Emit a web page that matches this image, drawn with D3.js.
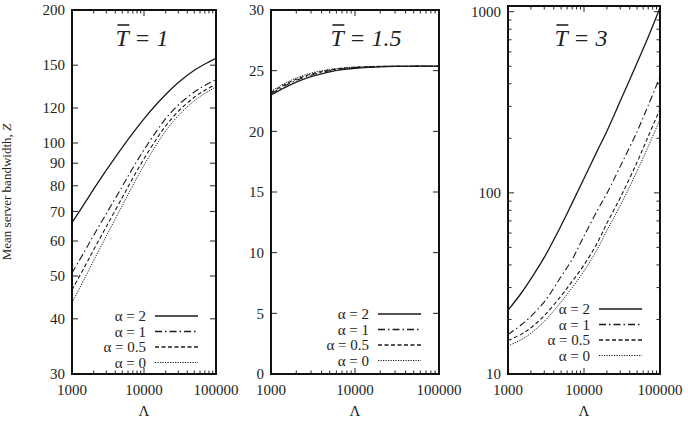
<!DOCTYPE html>
<html>
<head>
<meta charset="utf-8">
<script src="https://cdn.jsdelivr.net/npm/d3@7"></script>
<style>
  html, body { margin: 0; padding: 0; background: #fff; }
  svg { display: block; }
</style>
</head>
<body>
<svg id="chart" width="688" height="423"></svg>
<script>
// ---------------- data ----------------
const lambdaGrid = [1000, 1500, 2000, 3000, 5000, 7000, 10000, 15000, 20000, 30000, 50000, 70000, 100000];
const xTickValues = [1000, 10000, 100000];
const alphaLabels = ["α = 2", "α = 1", "α = 0.5", "α = 0"];

// Panel 1: T = 1
const t1_alpha2  = [66, 73.1, 78.6, 86.8, 97.8, 105.3, 113.4, 122.5, 128.8, 137.1, 146.1, 150.9, 155.5];
const t1_alpha1  = [50.8, 56.9, 61.8, 69.2, 79.8, 87.8, 96.5, 106.5, 113.5, 121.9, 130.4, 135, 139.2];
const t1_alpha05 = [46.5, 52.5, 57.3, 64.7, 75.3, 83.3, 92.1, 102.2, 109.3, 118, 126.9, 131.6, 135.9];
const t1_alpha0  = [43.5, 49.4, 54.2, 61.6, 72.2, 80.2, 89.1, 99.3, 106.5, 115.4, 124.6, 129.5, 133.9];
const t1_yTicks  = [30, 40, 50, 60, 70, 80, 90, 100, 120, 150, 200];

// Panel 2: T = 1.5
const t15_alpha2  = [23.0, 23.65, 24.05, 24.5, 24.9, 25.08, 25.2, 25.28, 25.32, 25.35, 25.37, 25.37, 25.37];
const t15_alpha1  = [23.1, 23.8, 24.2, 24.63, 25.0, 25.15, 25.25, 25.31, 25.34, 25.36, 25.37, 25.37, 25.37];
const t15_alpha05 = [23.2, 23.9, 24.3, 24.72, 25.06, 25.19, 25.28, 25.33, 25.35, 25.36, 25.37, 25.37, 25.37];
const t15_alpha0  = [23.3, 24.0, 24.4, 24.8, 25.1, 25.22, 25.3, 25.34, 25.36, 25.37, 25.37, 25.37, 25.37];
const t15_yTicks  = [0, 5, 10, 15, 20, 25, 30];

// Panel 3: T = 3
const t3_alpha2  = [22.5, 28, 33.5, 44, 66, 88, 120, 171, 219, 321, 522, 724, 1050];
const t3_alpha1  = [16.5, 18.7, 20.8, 25, 34.5, 43, 57.7, 80, 99.3, 140, 218, 304, 437];
const t3_alpha05 = [15.3, 16.6, 18, 21, 27, 32.5, 40, 53, 68, 94, 148, 205, 290];
const t3_alpha0  = [14.3, 15.5, 16.8, 19.5, 25, 30, 37, 49, 62, 85, 132, 180, 255];
const t3_yMajor  = [10, 100, 1000];
const t3_yMinor  = [20, 30, 40, 50, 60, 70, 80, 90, 200, 300, 400, 500, 600, 700, 800, 900];

// ---------------- styling ----------------
const FONT = "Liberation Serif";
const INK = "#222";
const dashStyles = [null, "7,3,1.5,3", "4,2.5", "1.2,1.3"];
const lineWidths = [1.3, 1.1, 1.1, 1.0];

const svg = d3.select("#chart");

const panels = [
  { title: "1", x0: 72, x1: 216, yTop: 10, yBot: 374, type: "log", domain: [30, 200],
    series: [t1_alpha2, t1_alpha1, t1_alpha05, t1_alpha0], yMajor: t1_yTicks, yMinor: [],
    legendY: 316, titleX: 142 },
  { title: "1.5", x0: 271, x1: 439, yTop: 10, yBot: 374, type: "linear", domain: [0, 30],
    series: [t15_alpha2, t15_alpha1, t15_alpha05, t15_alpha0], yMajor: t15_yTicks, yMinor: [],
    legendY: 314, titleX: 366 },
  { title: "3", x0: 508, x1: 660, yTop: 6, yBot: 374, type: "log", domain: [10, 1075],
    series: [t3_alpha2, t3_alpha1, t3_alpha05, t3_alpha0], yMajor: t3_yMajor, yMinor: t3_yMinor,
    legendY: 309, titleX: 581 }
];

const xMinor = [];
[1000, 10000].forEach(d => { for (let k = 2; k <= 9; k++) xMinor.push(d * k); });

function txt(g) {
  return g.append("text").attr("font-family", FONT).attr("fill", INK);
}

panels.forEach(p => {
  const x = d3.scaleLog().domain([1000, 100000]).range([p.x0, p.x1]);
  const y = (p.type === "log" ? d3.scaleLog() : d3.scaleLinear()).domain(p.domain).range([p.yBot, p.yTop]);
  const g = svg.append("g");

  const clipId = "clip" + p.title.replace(".", "_");
  svg.append("clipPath").attr("id", clipId).append("rect")
    .attr("x", p.x0).attr("y", p.yTop).attr("width", p.x1 - p.x0).attr("height", p.yBot - p.yTop);

  const majLen = 6, minLen = 3.5;
  xTickValues.forEach(v => {
    g.append("line").attr("x1", x(v)).attr("x2", x(v)).attr("y1", p.yBot).attr("y2", p.yBot - majLen).attr("stroke", INK);
    g.append("line").attr("x1", x(v)).attr("x2", x(v)).attr("y1", p.yTop).attr("y2", p.yTop + majLen).attr("stroke", INK);
    txt(g).attr("x", x(v)).attr("y", 395).attr("text-anchor", "middle").attr("font-size", 15).text(d3.format("d")(v));
  });
  xMinor.forEach(v => {
    g.append("line").attr("x1", x(v)).attr("x2", x(v)).attr("y1", p.yBot).attr("y2", p.yBot - minLen).attr("stroke", INK);
    g.append("line").attr("x1", x(v)).attr("x2", x(v)).attr("y1", p.yTop).attr("y2", p.yTop + minLen).attr("stroke", INK);
  });

  p.yMajor.forEach(v => {
    g.append("line").attr("x1", p.x0).attr("x2", p.x0 + majLen).attr("y1", y(v)).attr("y2", y(v)).attr("stroke", INK);
    g.append("line").attr("x1", p.x1).attr("x2", p.x1 - majLen).attr("y1", y(v)).attr("y2", y(v)).attr("stroke", INK);
    txt(g).attr("x", p.x0 - 7).attr("y", y(v)).attr("dy", "0.35em").attr("text-anchor", "end").attr("font-size", 15).text(v);
  });
  p.yMinor.forEach(v => {
    g.append("line").attr("x1", p.x0).attr("x2", p.x0 + minLen).attr("y1", y(v)).attr("y2", y(v)).attr("stroke", INK);
    g.append("line").attr("x1", p.x1).attr("x2", p.x1 - minLen).attr("y1", y(v)).attr("y2", y(v)).attr("stroke", INK);
  });

  const line = d3.line().x(d => x(d[0])).y(d => y(d[1])).curve(d3.curveCatmullRom.alpha(0.5));
  p.series.forEach((s, i) => {
    const pts = lambdaGrid.map((l, j) => [l, s[j]]);
    g.append("path").attr("d", line(pts)).attr("fill", "none").attr("stroke", "#1a1a1a")
      .attr("stroke-width", lineWidths[i]).attr("stroke-dasharray", dashStyles[i])
      .attr("clip-path", `url(#${clipId})`);
  });

  g.append("rect").attr("x", p.x0).attr("y", p.yTop).attr("width", p.x1 - p.x0).attr("height", p.yBot - p.yTop)
    .attr("fill", "none").attr("stroke", "#111").attr("stroke-width", 2);

  const lx1 = p.x1 - 18, lx0 = p.x1 - 61, tx = p.x1 - 70;
  alphaLabels.forEach((lab, i) => {
    const ly = p.legendY + i * 15.5;
    txt(g).attr("x", tx).attr("y", ly).attr("dy", "0.35em").attr("text-anchor", "end").attr("font-size", 15).text(lab);
    g.append("line").attr("x1", lx0).attr("x2", lx1).attr("y1", ly).attr("y2", ly).attr("stroke", "#1a1a1a")
      .attr("stroke-width", lineWidths[i] + 0.2).attr("stroke-dasharray", dashStyles[i]);
  });

  txt(g).attr("x", (p.x0 + p.x1) / 2).attr("y", 416).attr("text-anchor", "middle").attr("font-size", 15).text("Λ");

  const tt = txt(g).attr("x", p.titleX).attr("y", 46).attr("text-anchor", "middle")
    .attr("font-size", 24).attr("font-style", "italic");
  tt.append("tspan").text("T");
  tt.append("tspan").text(" = " + p.title);
  const ext = tt.node().getExtentOfChar(0);
  g.append("line").attr("x1", ext.x + 2).attr("x2", ext.x + ext.width + 1)
    .attr("y1", 25).attr("y2", 25).attr("stroke", INK).attr("stroke-width", 1.6);
});

const yl = txt(svg).attr("transform", "translate(11,192) rotate(-90)").attr("text-anchor", "middle").attr("font-size", 13);
yl.append("tspan").text("Mean server bandwidth, ");
yl.append("tspan").attr("font-style", "italic").text("Z");
</script>
</body>
</html>
